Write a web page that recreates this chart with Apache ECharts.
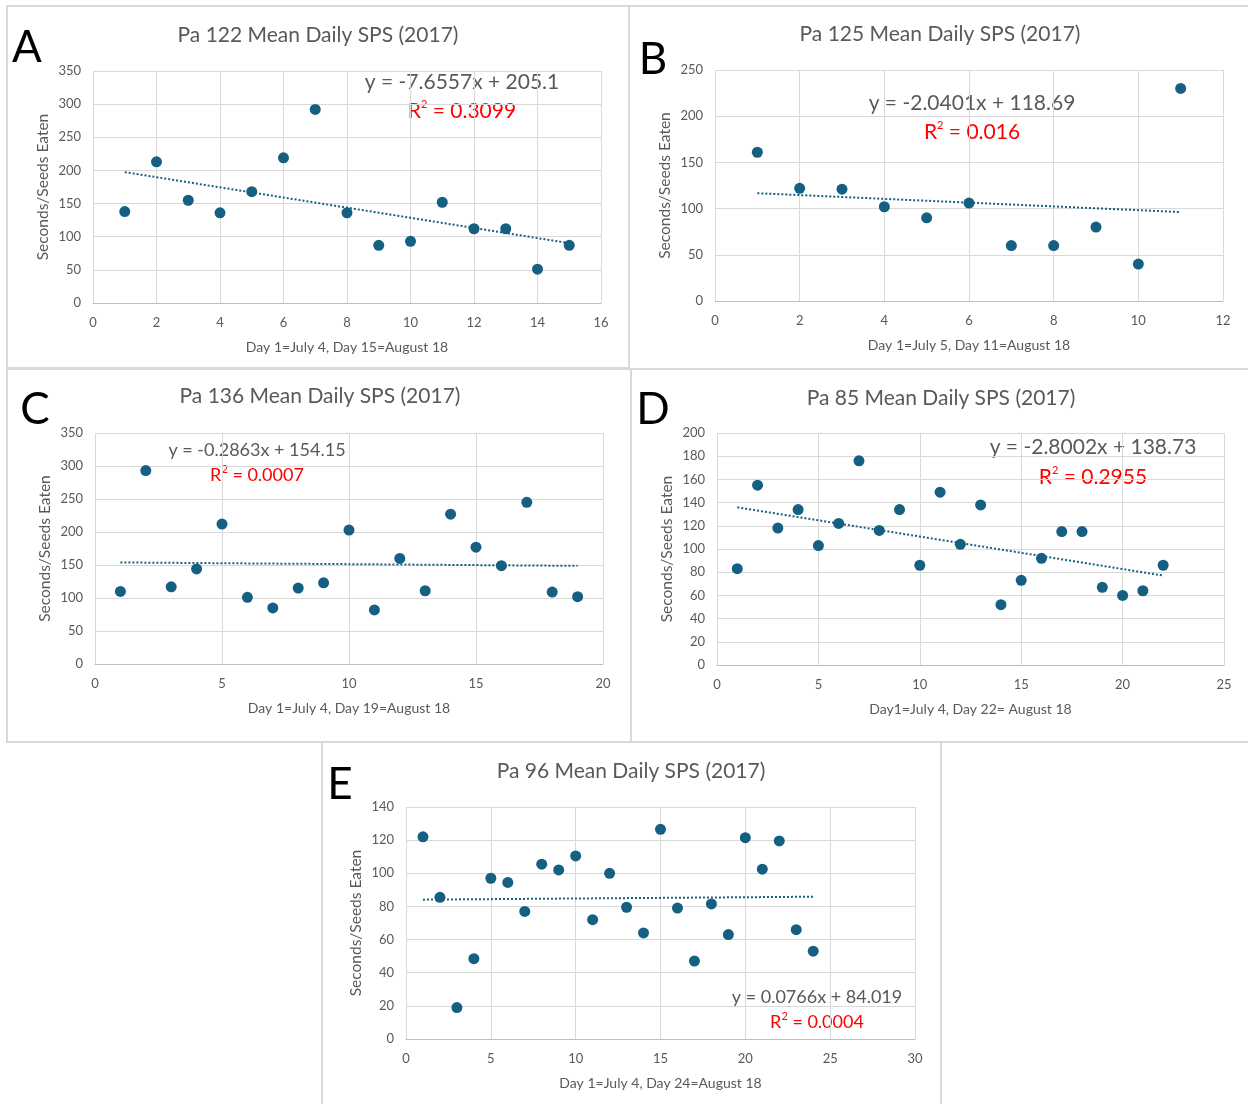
<!DOCTYPE html>
<html>
<head>
<meta charset="utf-8">
<script src="https://cdn.jsdelivr.net/npm/echarts@6/dist/echarts.min.js"></script>
<style>
html,body{margin:0;padding:0;background:#fff;}
#c{width:1248px;height:1104px;}
</style>
</head>
<body>
<div id="c"></div>
<script>
// ---------- DATA ----------
const titles = ['Pa 122 Mean Daily SPS (2017)', 'Pa 125 Mean Daily SPS (2017)', 'Pa 136 Mean Daily SPS (2017)', 'Pa 85 Mean Daily SPS (2017)', 'Pa 96 Mean Daily SPS (2017)'];
const letters = ['A', 'B', 'C', 'D', 'E'];
const xTitles = ['Day 1=July 4, Day 15=August 18', 'Day 1=July 5, Day 11=August 18', 'Day 1=July 4, Day 19=August 18', 'Day1=July 4, Day 22= August 18', 'Day 1=July 4, Day 24=August 18'];
const yTitle = 'Seconds/Seeds Eaten';

const valuesA = [138, 213, 155, 136, 168, 219, 292, 136, 87, 93, 152, 112, 112, 51, 87];
const valuesB = [161, 122, 121, 102, 90, 106, 60, 60, 80, 40, 230];
const valuesC = [110, 293, 117, 144, 212, 101, 85, 115, 123, 203, 82, 160, 111, 227, 177, 149, 245, 109, 102];
const valuesD = [83, 155, 118, 134, 103, 122, 176, 116, 134, 86, 149, 104, 138, 52, 73, 92, 115, 115, 67, 60, 64, 86];
const valuesE = [122, 85.5, 19, 48.5, 97, 94.5, 77, 105.5, 102, 110.5, 72, 100, 79.5, 64, 126.5, 79, 47, 81.5, 63, 121.5, 102.5, 119.5, 66, 53];

// trendline coefficients as printed on the chart
const slopes = [-7.6557, -2.0401, -0.2863, -2.8002, 0.0766];
const intercepts = [205.1, 118.69, 154.15, 138.73, 84.019];
const equations = ['y = -7.6557x + 205.1', 'y = -2.0401x + 118.69', 'y = -0.2863x + 154.15', 'y = -2.8002x + 138.73', 'y = 0.0766x + 84.019'];
const r2 = ['0.3099', '0.016', '0.0007', '0.2955', '0.0004'];

// axis ranges / tick steps
const xMax = [16, 12, 20, 25, 30];
const xStep = [2, 2, 5, 5, 5];
const yMax = [350, 250, 350, 200, 140];
const yStep = [50, 50, 50, 20, 20];

// ---------- LAYOUT ----------
const allValues = [valuesA, valuesB, valuesC, valuesD, valuesE];
const grids = [
  {left: 93, top: 71, width: 508, height: 232},
  {left: 715, top: 70, width: 508, height: 231},
  {left: 95, top: 433, width: 508, height: 231},
  {left: 717, top: 433, width: 507, height: 232},
  {left: 406, top: 807, width: 509, height: 232}
];
const titlePos = [[318, 35], [940, 34], [320, 396], [941, 398], [631, 771]];
const letterPos = [[27, 48], [653, 60], [35, 410], [653, 410], [340, 785]];
const eqPos = [[462, 82, 111, 21], [972, 103, 132, 21], [257, 450, 475, 18], [1093, 447, 477, 21], [817, 997, 1022, 18]];
const panels = [[7, 6, 622, 362], [629, 6, 625, 363], [7, 369, 624, 373], [631, 369, 622, 373], [322, 742, 619, 370]];

const FONT = 'Lato, "Open Sans", sans-serif';
const GRAY = '#595959';
const DOT = '#156082';

const option = {
  backgroundColor: '#fff',
  animation: false,
  grid: grids.map(g => Object.assign({containLabel: false}, g)),
  xAxis: grids.map((g, i) => ({
    type: 'value', gridIndex: i, min: 0, max: xMax[i], interval: xStep[i],
    name: xTitles[i], nameLocation: 'middle', nameGap: 37,
    nameTextStyle: {color: GRAY, fontSize: 14, fontFamily: FONT},
    axisLine: {show: true, onZero: false, lineStyle: {color: '#bfbfbf', width: 1}},
    axisTick: {show: false},
    axisLabel: {color: GRAY, fontSize: 13, fontFamily: FONT, margin: 13},
    splitLine: {show: true, lineStyle: {color: '#d9d9d9', width: 1}}
  })),
  yAxis: grids.map((g, i) => ({
    type: 'value', gridIndex: i, min: 0, max: yMax[i], interval: yStep[i],
    name: yTitle, nameLocation: 'middle', nameGap: 42,
    nameTextStyle: {color: GRAY, fontSize: 15.5, fontFamily: FONT},
    axisLine: {show: false},
    axisTick: {show: false},
    axisLabel: {color: GRAY, fontSize: 13, fontFamily: FONT, margin: 12},
    splitLine: {show: true, lineStyle: {color: '#d9d9d9', width: 1}}
  })),
  series: [],
  graphic: []
};

allValues.forEach((vals, i) => {
  option.series.push({
    type: 'scatter', xAxisIndex: i, yAxisIndex: i,
    symbolSize: 11, itemStyle: {color: DOT, opacity: 1},
    data: vals.map((v, k) => [k + 1, v]),
    z: 3
  });
  const n = vals.length;
  option.series.push({
    type: 'line', xAxisIndex: i, yAxisIndex: i, symbol: 'none',
    lineStyle: {color: DOT, width: 2, type: [2, 2]},
    data: [[1, intercepts[i] + slopes[i] * 1], [n, intercepts[i] + slopes[i] * n]],
    z: 2
  });
});

panels.forEach(p => {
  option.graphic.push({type: 'rect', shape: {x: p[0], y: p[1], width: p[2], height: p[3]},
    style: {fill: 'none', stroke: '#d9d9d9', lineWidth: 2}, z: 0, silent: true});
});
titles.forEach((t, i) => {
  option.graphic.push({type: 'text', x: titlePos[i][0], y: titlePos[i][1],
    style: {text: t, fill: GRAY, fontSize: 21, fontFamily: FONT, align: 'center', verticalAlign: 'middle'}});
  option.graphic.push({type: 'text', x: letterPos[i][0], y: letterPos[i][1],
    style: {text: letters[i], fill: '#000', fontSize: 44, fontFamily: FONT, align: 'center', verticalAlign: 'middle'}});
  const e = eqPos[i];
  option.graphic.push({type: 'text', x: e[0], y: e[1],
    style: {text: equations[i], fill: GRAY, fontSize: e[3], fontFamily: FONT, align: 'center', verticalAlign: 'middle'}});
  option.graphic.push({type: 'text', x: e[0], y: e[2],
    style: {text: '{r|R}{s|2}{r| = ' + r2[i] + '}', align: 'center', verticalAlign: 'middle',
      rich: {
        r: {fill: '#ff0000', fontSize: e[3], fontFamily: FONT, lineHeight: e[3] + 4},
        s: {fill: '#ff0000', fontSize: 11, fontFamily: FONT, verticalAlign: 'top', lineHeight: e[3] + 4, padding: [0, 0, 10, 0]}
      }}});
});

const chart = echarts.init(document.getElementById('c'), null, {renderer: 'canvas'});
chart.setOption(option);
</script>
</body>
</html>
